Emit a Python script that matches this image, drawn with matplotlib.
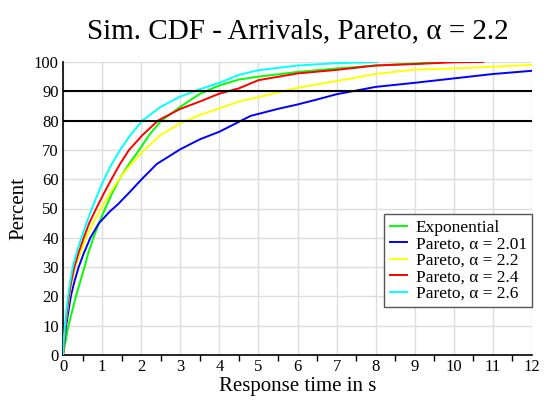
"""
Simulated CDF of response times for arrivals: exponential vs Pareto.
"""

import matplotlib
matplotlib.use("Agg")
import matplotlib.pyplot as plt
from matplotlib.ticker import MultipleLocator

plt.rcParams["font.family"] = ["Liberation Serif", "DejaVu Serif"]

# response time (s) / percent, one pair per curve
exp_x = [0, 0.14, 0.33, 0.44, 0.55, 0.65, 0.78, 0.92, 1.08, 1.25, 1.44, 1.68, 1.95, 2.2, 2.5,
         3.0, 3.5, 4.0, 4.5, 5.0, 6.0, 7.0, 8.0, 9.0, 9.8]
exp_y = [0, 10, 20, 25, 30, 35, 40, 45, 50, 55, 60, 65, 70, 75, 79.8,
         84.7, 89.1, 92.0, 94.0, 95.0, 96.6, 97.8, 98.8, 99.5, 100]

p201_x = [0, 0.08, 0.20, 0.29, 0.40, 0.54, 0.70, 0.92, 1.2, 1.41, 1.7, 2.0, 2.4, 3.0, 3.5, 4.0,
          4.8, 5.5, 6.0, 6.5, 7.0, 8.0, 9.0, 10.0, 11.0, 12.0]
p201_y = [0, 10, 20, 25, 30, 35, 40, 45, 49, 51.5, 55.5, 59.8, 65.2, 70.2, 73.6, 76.2,
          81.6, 84.0, 85.5, 87.2, 89.0, 91.5, 92.9, 94.4, 95.9, 97.0]

p22_x = [0, 0.06, 0.16, 0.22, 0.31, 0.45, 0.59, 0.77, 0.97, 1.19, 1.43, 1.73, 2.08, 2.5,
         3.0, 3.5, 4.0, 4.5, 5.0, 6.0, 7.0, 8.0, 9.0, 10.0, 11.0, 12.0]
p22_y = [0, 10, 20, 25, 30, 35, 40, 45, 50, 55, 60, 65, 70, 75.1,
         79.1, 81.9, 84.2, 86.5, 88.0, 91.2, 93.5, 95.9, 97.4, 97.8, 98.4, 99.0]

p24_x = [0, 0.06, 0.10, 0.15, 0.21, 0.29, 0.40, 0.53, 0.67, 0.85, 1.04, 1.24, 1.45, 1.69, 2.03, 2.43,
         3.0, 3.5, 4.0, 4.5, 5.0, 6.0, 7.0, 8.0, 9.0, 10.0, 10.75]
p24_y = [0, 10, 15, 20, 25, 30, 35, 40, 45, 50, 55, 60, 65, 70, 75, 80,
         84.0, 86.5, 89.2, 91.0, 93.8, 96.1, 97.3, 98.8, 99.3, 99.9, 100]

p26_x = [0, 0.02, 0.05, 0.085, 0.13, 0.185, 0.25, 0.35, 0.47, 0.60, 0.74, 0.89, 1.05, 1.24, 1.46,
         1.72, 2.03, 2.5, 3.0, 3.5, 4.0, 4.5, 5.0, 6.0, 7.0, 8.03]
p26_y = [0, 5, 10, 15, 20, 25, 30, 35, 40, 45, 50, 55, 60, 65, 70,
         75, 80, 84.7, 88.2, 90.7, 92.9, 95.6, 97.2, 98.8, 99.6, 100]

series = [
    ("Exponential", exp_x, exp_y, "#00ff00"),
    ("Pareto, α = 2.01", p201_x, p201_y, "#0000ff"),
    ("Pareto, α = 2.2", p22_x, p22_y, "#ffff00"),
    ("Pareto, α = 2.4", p24_x, p24_y, "#ff0000"),
    ("Pareto, α = 2.6", p26_x, p26_y, "#00ffff"),
]

marker_levels = [80, 90]

fig = plt.figure(figsize=(5.47, 4.07), dpi=100)
ax = fig.add_axes([63 / 547, 52 / 407, 469 / 547, 293 / 407])

for label, xs, ys, color in series:
    ax.plot(xs, ys, color=color, linewidth=1.4, label=label, zorder=3)

for lvl in marker_levels:
    ax.axhline(lvl, color="black", linewidth=1.5, zorder=4)

ax.set_xlim(0, 12)
ax.set_ylim(0, 100)
ax.xaxis.set_major_locator(MultipleLocator(1))
ax.xaxis.set_minor_locator(MultipleLocator(0.5))
ax.yaxis.set_major_locator(MultipleLocator(10))
ax.grid(True, which="major", color="#dddddd", linewidth=1.0, zorder=0)
ax.set_axisbelow(True)

ax.spines["top"].set_visible(False)
ax.spines["right"].set_visible(False)
ax.spines["left"].set_linewidth(1.2)
ax.spines["bottom"].set_linewidth(1.2)
ax.tick_params(axis="both", which="major", length=0, labelsize=12, pad=3)
ax.tick_params(axis="x", which="minor", length=4, width=1, direction="out")

ax.set_title("Sim. CDF - Arrivals, Pareto, α = 2.2", fontsize=21, pad=17)
ax.set_xlabel("Response time in s", fontsize=15, labelpad=1)
ax.set_ylabel("Percent", fontsize=15, labelpad=4)

leg = ax.legend(loc="lower right", bbox_to_anchor=(1.0, 0.164), borderaxespad=0,
                fontsize=12.5, fancybox=False, framealpha=1, edgecolor="#555555",
                handlelength=1.0, handletextpad=0.5, labelspacing=0.02,
                borderpad=0.3)
leg.get_frame().set_linewidth(1.0)
leg.set_zorder(5)

fig.savefig("out.png", dpi=100)
